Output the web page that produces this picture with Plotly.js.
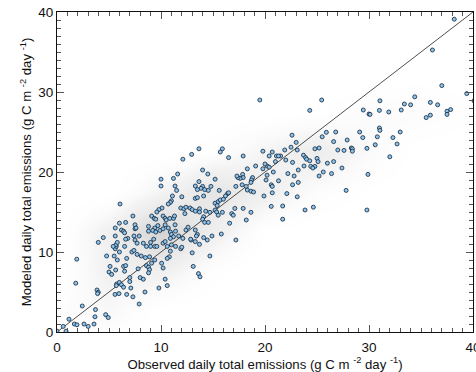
<!DOCTYPE html>
<html>
<head>
<meta charset="utf-8">
<script src="https://cdn.plot.ly/plotly-3.0.1.min.js"></script>
<style>
html,body{margin:0;padding:0;background:#fff;}
#chart{width:476px;height:372px;}
</style>
</head>
<body>
<div id="chart"></div>
<script>
// Observed (x) and modeled (y) daily total emissions, g C m-2 day-1
const observed = [
0.0,0.6,0.87,1.15,1.67,1.92,1.9,1.8,2.43,2.6,3.0,3.56,3.65,3.7,3.85,3.97,3.9,4.68,4.93,4.77,
5.1,5.0,5.26,5.64,5.74,5.7,5.58,5.96,6.0,6.2,6.4,6.7,7.1,7.3,7.9,8.46,8.0,8.3,7.8,7.0,
7.0,6.5,6.4,6.6,6.7,5.8,5.5,6.0,5.6,5.7,6.5,7.2,7.4,7.7,8.1,8.5,8.6,8.8,8.9,8.8,
9.1,9.4,8.9,8.6,9.4,9.6,10.06,10.2,10.4,10.6,9.8,10.6,10.8,10.6,10.9,11.4,11.9,13.1,
12.95,12.1,11.6,11.2,10.0,10.0,11.35,11.5,11.1,12.0,11.0,10.9,10.7,10.1,9.8,9.6,6.06,7.3,9.1,9.35,
9.5,10.2,10.4,10.5,10.85,11.2,11.3,11.9,12.2,12.4,12.8,13.0,12.3,11.35,10.4,9.7,9.4,9.2,9.5,9.9,
10.2,10.7,10.9,11.0,11.2,10.9,11.4,11.7,12.1,12.4,12.6,12.9,7.5,7.5,7.6,6.2,6.4,6.5,5.6,5.6,
6.6,6.0,7.4,7.9,6.8,6.6,7.5,7.7,8.3,8.8,8.8,3.97,4.45,5.67,5.8,5.4,9.0,9.3,10.2,10.4,
11.0,12.0,9.0,
19.5,25.45,24.3,22.6,23.0,25.9,25.5,26.6,24.8,25.2,22.5,23.1,21.9,21.5,21.1,21.3,20.7,20.4,19.8,21.0,
22.0,22.65,23.7,23.9,24.0,24.3,24.4,25.0,25.1,24.8,24.6,23.75,23.2,26.0,26.6,25.6,25.2,26.4,22.2,22.8,
23.2,22.65,22.1,23.1,21.3,20.8,20.2,20.4,20.0,19.8,20.2,20.1,20.6,20.7,20.7,19.9,19.1,18.3,18.8,18.7,
18.65,17.85,17.9,17.6,17.4,17.3,18.2,18.3,18.65,18.9,17.8,17.2,17.9,16.5,15.9,15.7,13.65,14.0,14.5,15.2,
13.65,14.0,13.85,13.3,13.5,14.2,14.55,14.8,15.6,16.4,16.2,16.5,14.1,13.3,13.5,15.2,15.5,15.7,16.0,
13.3,13.7,13.7,14.3,14.7,15.2,15.35,15.5,15.9,15.4,17.1,17.9,18.65,16.8,16.95,16.6,18.2,20.6,21.7,21.7,
23.85,24.65,14.1,14.0,14.2,14.55,13.3,13.5,13.4,12.85,13.3,13.7,14.1,14.45,14.9,15.8,17.2,13.0,14.7,13.6,
13.75,
38.2,36.1,37.0,39.4,40.1,31.05,34.4,33.4,34.0,35.9,36.6,29.45,30.0,30.1,31.0,31.9,33.1,37.85,37.5,37.5,
35.9,35.5,
31.0,31.05,26.8,29.1,33.0,27.9,29.4,30.8,32.3,32.7,27.0,27.6,28.3,28.4,28.4,29.8,30.6,32.0,27.4,29.9,
27.8,29.8
];
const modeled = [
0.1,0.7,0.1,1.6,1.0,0.9,9.1,6.1,3.25,1.0,0.7,1.0,1.9,2.8,5.25,4.96,4.8,2.17,1.8,9.5,
8.2,7.5,7.2,7.75,6.0,5.8,4.7,4.8,6.2,5.9,5.6,4.7,5.5,4.4,3.5,5.0,6.8,6.6,7.9,6.8,
6.3,7.6,8.2,8.3,9.2,9.0,9.5,10.0,10.4,10.7,10.7,10.0,10.2,9.7,9.5,9.3,8.3,8.1,7.8,7.4,
8.6,9.0,9.4,10.7,10.7,10.7,8.6,8.0,6.6,5.8,5.5,10.7,9.4,9.2,10.1,10.7,10.4,8.2,
22.2,21.6,19.75,19.2,19.1,18.25,18.25,17.7,17.0,16.9,16.4,16.2,16.0,15.5,15.3,15.0,16.0,14.5,14.5,14.2,
14.1,14.5,14.2,14.0,14.2,14.2,14.5,15.5,15.4,15.6,15.5,15.3,14.8,13.4,13.4,13.3,13.0,12.7,12.5,12.7,
12.9,13.0,12.5,12.2,11.9,11.7,12.6,12.0,11.7,12.75,13.1,11.5,13.4,12.9,13.0,12.75,12.6,12.4,13.0,12.0,
13.7,13.6,12.0,12.0,11.7,11.6,11.5,11.1,11.1,13.2,12.6,11.2,11.8,10.9,11.2,10.7,11.2,11.6,11.1,11.3,
10.9,10.6,10.7,
29.0,29.0,27.7,24.6,23.7,24.96,24.4,23.8,22.9,23.0,23.1,22.75,22.75,22.0,22.0,22.0,22.5,22.0,22.6,21.3,
21.5,21.2,22.1,21.8,21.6,21.4,20.7,21.7,21.3,20.7,20.5,20.75,20.25,21.1,21.3,20.0,19.5,19.8,19.8,19.5,
18.7,18.4,17.3,16.9,18.9,20.0,20.75,20.6,21.0,20.4,19.6,19.0,18.4,18.2,17.4,17.0,20.75,20.4,19.3,19.0,
18.7,19.7,19.3,19.2,19.3,19.5,18.2,17.75,17.6,17.5,18.4,18.2,22.0,21.8,22.9,22.5,22.9,20.25,19.75,19.1,
18.8,18.2,17.96,18.25,17.8,17.8,17.7,18.2,17.7,17.3,17.0,17.4,17.0,16.7,16.8,16.1,16.3,16.5,16.6,
15.1,15.4,15.0,15.1,14.96,15.25,15.0,14.6,14.96,15.8,15.45,15.45,14.96,14.8,14.6,13.6,14.0,15.7,15.75,14.1,
15.25,15.6,14.4,14.1,13.7,13.7,12.75,12.2,12.0,11.6,11.3,10.96,11.8,11.5,12.0,12.25,11.5,9.9,9.5,7.3,
6.9,
39.1,35.25,30.8,29.8,28.9,28.9,29.4,28.5,28.4,28.7,28.4,27.75,27.25,27.2,27.7,27.5,27.75,27.8,27.6,27.2,
27.1,26.8,
25.5,25.2,25.0,25.0,25.0,24.0,24.3,24.4,24.3,23.5,22.75,22.7,23.0,22.9,22.6,22.96,23.4,21.9,20.5,19.7,
17.7,15.25
];
const oneToOneLine = [0, 40];
const tickValues = [0, 10, 20, 30, 40];
const tickLabels = ['0', '10', '20', '30', '40'];
const unitText = ' (g C m <sup>-2</sup> day <sup>-1</sup>)';
const xTitle = 'Observed daily total emissions' + unitText;
const yTitle = 'Modeled daily total emissions' + unitText;

const fontFam = 'Liberation Sans, Arial, Helvetica, sans-serif';

const traces = [
  {
    type: 'histogram2dcontour',
    x: observed, y: modeled,
    nbinsx: 10, nbinsy: 10,
    contours: {coloring: 'heatmap', showlines: false},
    line: {width: 0},
    colorscale: [[0, 'rgba(255,255,255,0)'], [0.35, 'rgba(220,220,220,0.35)'], [1, 'rgba(165,165,165,0.5)']],
    showscale: false,
    hoverinfo: 'skip'
  },
  {
    type: 'scatter', mode: 'lines',
    x: oneToOneLine, y: oneToOneLine,
    line: {color: '#222', width: 0.8},
    hoverinfo: 'skip'
  },
  {
    type: 'scatter', mode: 'markers',
    x: observed, y: modeled,
    marker: {size: 4, color: '#8ec4ec', line: {color: '#102236', width: 0.8}}
  }
];

const axisCommon = {
  range: [0, 40],
  tickvals: tickValues,
  ticktext: tickLabels,
  ticks: 'inside',
  ticklen: 7,
  tickwidth: 1,
  tickcolor: '#555',
  showline: true,
  linecolor: '#111',
  linewidth: 1,
  mirror: 'ticks',
  showgrid: false,
  zeroline: false,
  ticklabeloverflow: 'allow',
  tickfont: {family: fontFam, size: 13.5, color: '#111'},
  minor: {dtick: 1, ticks: 'inside', ticklen: 4, tickcolor: '#555', showgrid: false}
};

const layout = {
  width: 476, height: 372,
  margin: {l: 57, r: 3, t: 12, b: 40},
  paper_bgcolor: '#fff',
  plot_bgcolor: '#fff',
  showlegend: false,
  xaxis: Object.assign({}, axisCommon, {
    ticklabelstandoff: 3,
    title: {text: xTitle, font: {family: fontFam, size: 13.2, color: '#111'}, standoff: 5}
  }),
  yaxis: Object.assign({}, axisCommon, {
    title: {text: yTitle, font: {family: fontFam, size: 13.2, color: '#111'}, standoff: 3}
  })
};

Plotly.newPlot('chart', traces, layout, {displayModeBar: false, staticPlot: true});
</script>
</body>
</html>
